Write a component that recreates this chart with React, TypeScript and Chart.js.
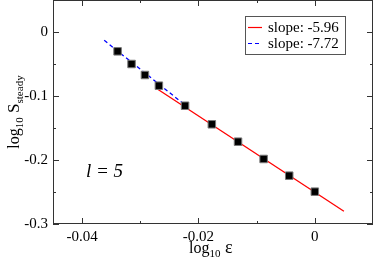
import React, { useEffect, useRef } from "react";
import { Chart, registerables } from "chart.js";

Chart.register(...registerables);

// Data points (log10 eps, log10 S_steady)
const pointX = [-0.0339, -0.0315, -0.0292, -0.0268, -0.0223, -0.0177, -0.0132, -0.0088, -0.0044, 0.0];
const pointY = [-0.0302, -0.05, -0.0672, -0.0839, -0.1152, -0.1442, -0.1714, -0.1984, -0.2245, -0.2495];

// Fit lines (endpoints)
const redX = [-0.027, 0.005];
const redY = [-0.0895, -0.2802];
const blueX = [-0.0362, -0.0221];
const blueY = [-0.013, -0.1156];

const legendLabels = ["slope: -5.96", "slope: -7.72"];
const xTicks = [-0.04, -0.02, 0];
const xTickLabels = ["-0.04", "-0.02", "0"];
const xMinor = [-0.03, -0.01];
const yTicks = [0, -0.1, -0.2, -0.3];
const yTickLabels = ["0", "-0.1", "-0.2", "-0.3"];
const yMinor = [0.05, -0.05, -0.15, -0.25];

const SERIF = "'Liberation Serif', 'Times New Roman', serif";

const zeroPad = (s: any) => {
  s.paddingTop = 0;
  s.paddingBottom = 0;
  s.paddingLeft = 0;
  s.paddingRight = 0;
};

const decorPlugin = {
  id: "decor",
  afterDatasetsDraw(chart: any) {
    const { ctx, chartArea } = chart;
    const xs = chart.scales.x;
    const ys = chart.scales.y;
    const { left, right, top, bottom } = chartArea;
    ctx.save();
    // frame
    ctx.strokeStyle = "#333";
    ctx.lineWidth = 1;
    ctx.strokeRect(left + 0.5, top + 0.5, right - left - 1, bottom - top - 1);
    ctx.beginPath();
    const drawX = (v: number, len: number) => {
      const px = Math.round(xs.getPixelForValue(v)) + 0.5;
      ctx.moveTo(px, bottom);
      ctx.lineTo(px, bottom - len);
      ctx.moveTo(px, top);
      ctx.lineTo(px, top + len);
    };
    const drawY = (v: number, len: number) => {
      const py = Math.round(ys.getPixelForValue(v)) + 0.5;
      ctx.moveTo(left, py);
      ctx.lineTo(left + len, py);
      ctx.moveTo(right, py);
      ctx.lineTo(right - len, py);
    };
    xTicks.forEach((v) => drawX(v, 6));
    xMinor.forEach((v) => drawX(v, 3));
    yTicks.forEach((v) => drawY(v, 6));
    yMinor.forEach((v) => drawY(v, 3));
    ctx.stroke();

    // x title: log10 ε
    ctx.fillStyle = "#000";
    ctx.textBaseline = "alphabetic";
    ctx.textAlign = "left";
    const big = `16px ${SERIF}`;
    const small = `11px ${SERIF}`;
    const parts = [
      { t: "log", f: big, dy: 0 },
      { t: "10", f: small, dy: 4 },
      { t: " \u03b5", f: `18px ${SERIF}`, dy: 0 },
    ];
    let w = 0;
    parts.forEach((p) => {
      ctx.font = p.f;
      w += ctx.measureText(p.t).width;
    });
    let cx = 189;
    const baseY = 253;
    parts.forEach((p) => {
      ctx.font = p.f;
      ctx.fillText(p.t, cx, baseY + p.dy);
      cx += ctx.measureText(p.t).width;
    });

    // y title: log10 S_steady (rotated)
    const yparts = [
      { t: "log", f: big, dy: 0 },
      { t: "10", f: small, dy: 4 },
      { t: " S", f: `17px ${SERIF}`, dy: 0 },
      { t: "steady", f: small, dy: 4 },
    ];
    w = 0;
    yparts.forEach((p) => {
      ctx.font = p.f;
      w += ctx.measureText(p.t).width;
    });
    ctx.save();
    ctx.translate(19, (top + bottom) / 2);
    ctx.rotate(-Math.PI / 2);
    cx = -w / 2;
    yparts.forEach((p) => {
      ctx.font = p.f;
      ctx.fillText(p.t, cx, p.dy);
      cx += ctx.measureText(p.t).width;
    });
    ctx.restore();

    // l = 5
    ctx.font = `italic 19px ${SERIF}`;
    ctx.fillText("l = 5", 86, 177);

    // legend
    const lx = 245, ly = 16, lw = 100, lh = 38;
    ctx.fillStyle = "#fff";
    ctx.fillRect(lx, ly, lw, lh);
    ctx.strokeStyle = "#555";
    ctx.lineWidth = 1;
    ctx.strokeRect(lx + 0.5, ly + 0.5, lw, lh);
    const colors = ["#ff0000", "#0000ff"];
    const dashes = [[], [4, 3]];
    legendLabels.forEach((lab, i) => {
      const yy = 27 + i * 16;
      ctx.strokeStyle = colors[i];
      ctx.lineWidth = 1.2;
      ctx.setLineDash(dashes[i]);
      ctx.beginPath();
      ctx.moveTo(248, yy + 0.5);
      ctx.lineTo(262, yy + 0.5);
      ctx.stroke();
      ctx.setLineDash([]);
      ctx.fillStyle = "#000";
      ctx.font = `15px ${SERIF}`;
      ctx.textBaseline = "middle";
      ctx.fillText(lab, 268, yy + 1);
    });
    ctx.restore();
  },
};

export default function App() {
  const ref = useRef<HTMLCanvasElement>(null);
  useEffect(() => {
    document.body.style.margin = "0";
    const pts = pointX.map((x, i) => ({ x, y: pointY[i] }));
    const red = redX.map((x, i) => ({ x, y: redY[i] }));
    const blue = blueX.map((x, i) => ({ x, y: blueY[i] }));
    const chart = new Chart(ref.current!, {
      type: "scatter",
      data: {
        datasets: [
          {
            data: pts,
            order: 0,
            pointStyle: "rect",
            pointRadius: 5.3,
            backgroundColor: "#000",
            borderColor: "#777",
            borderWidth: 1,
          },
          {
            data: red,
            order: 2,
            showLine: true,
            borderColor: "#ff0000",
            borderWidth: 1.3,
            pointRadius: 0,
          },
          {
            data: blue,
            order: 1,
            showLine: true,
            borderColor: "#0000ff",
            borderWidth: 1.3,
            borderDash: [4, 3],
            pointRadius: 0,
          },
        ],
      },
      options: {
        animation: false,
        responsive: false,
        layout: { autoPadding: false, padding: { top: 0, right: 1, left: 0, bottom: 0 } },
        plugins: { legend: { display: false }, tooltip: { enabled: false } },
        scales: {
          x: {
            type: "linear",
            min: -0.045,
            max: 0.01,
            grid: { display: false, drawTicks: false },
            border: { display: false },
            afterFit: (s: any) => {
              s.height = 38;
              zeroPad(s);
            },
            afterBuildTicks: (s: any) => {
              s.ticks = xTicks.map((v) => ({ value: v }));
            },
            ticks: {
              padding: 4,
              color: "#000",
              font: { family: SERIF, size: 15 },
              maxRotation: 0,
              autoSkip: false,
              callback: (v: any) => {
                const i = xTicks.findIndex((t) => Math.abs(t - v) < 1e-9);
                return i >= 0 ? xTickLabels[i] : "";
              },
            },
          },
          y: {
            type: "linear",
            min: -0.3,
            max: 0.05,
            grid: { display: false, drawTicks: false },
            border: { display: false },
            afterFit: (s: any) => {
              s.width = 53;
              zeroPad(s);
            },
            afterBuildTicks: (s: any) => {
              s.ticks = yTicks.map((v) => ({ value: v }));
            },
            ticks: {
              padding: 5,
              color: "#000",
              font: { family: SERIF, size: 15 },
              autoSkip: false,
              callback: (v: any) => {
                const i = yTicks.findIndex((t) => Math.abs(t - v) < 1e-9);
                return i >= 0 ? yTickLabels[i] : "";
              },
            },
          },
        },
      },
      plugins: [decorPlugin],
    } as any);
    return () => chart.destroy();
  }, []);
  return (
    <div style={{ position: "fixed", left: 0, top: 0, width: 374, height: 262 }}>
      <canvas ref={ref} width={374} height={262} style={{ display: "block" }} />
    </div>
  );
}
